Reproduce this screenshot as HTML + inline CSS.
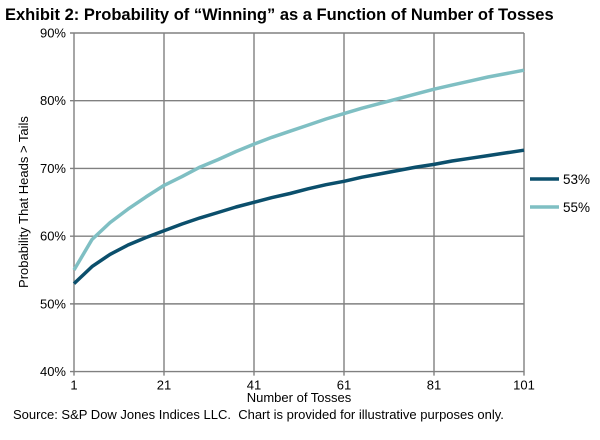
<!DOCTYPE html>
<html><head><meta charset="utf-8"><style>
body{margin:0;background:#fff;font-family:"Liberation Sans",Arial,sans-serif}
svg text{font-family:"Liberation Sans",Arial,sans-serif}
</style></head><body>
<svg id="chart" width="600" height="435" xmlns="http://www.w3.org/2000/svg">
<text x="5" y="20" font-size="16.5" font-weight="bold" fill="#000">Exhibit 2: Probability of “Winning” as a Function of Number of Tosses</text>
<g id="grid"></g><g id="series"></g><g id="labels"></g>
<text transform="translate(28,202) rotate(-90)" text-anchor="middle" font-size="13">Probability That Heads &gt; Tails</text>
<text x="299" y="402" text-anchor="middle" font-size="13">Number of Tosses</text>
<text x="13" y="419" font-size="13" xml:space="preserve">Source: S&amp;P Dow Jones Indices LLC.  Chart is provided for illustrative purposes only.</text>
<g>
<line x1="530" y1="179" x2="559" y2="179" stroke="#0b4f6c" stroke-width="3.5"/>
<text x="563" y="184" font-size="13.5">53%</text>
<line x1="530" y1="207" x2="559" y2="207" stroke="#7fbfc3" stroke-width="3.5"/>
<text x="563" y="212" font-size="13.5">55%</text>
</g>
</svg>
<script>
const tosses=[1,5,9,13,17,21,25,29,33,37,41,45,49,53,57,61,65,69,73,77,81,85,89,93,97,101];
const s53=[53,55.5,57.3,58.7,59.8,60.8,61.8,62.7,63.5,64.3,65.0,65.7,66.3,67.0,67.6,68.1,68.7,69.2,69.7,70.2,70.6,71.1,71.5,71.9,72.3,72.7];
const s55=[55,59.5,62,64,65.8,67.5,68.8,70.2,71.3,72.5,73.6,74.6,75.5,76.4,77.3,78.1,78.9,79.6,80.3,81.0,81.7,82.3,82.9,83.5,84.0,84.5];
const yTicks=[40,50,60,70,80,90];
const xTicks=[1,21,41,61,81,101];
const X0=74,X1=524,Y0=371.6,Y1=33;
const xs=v=>X0+(v-1)/(100)*(X1-X0);
const ys=v=>Y0-(v-40)/50*(Y0-Y1);
const NS="http://www.w3.org/2000/svg";
const grid=document.getElementById('grid'),labels=document.getElementById('labels'),ser=document.getElementById('series');
function mk(tag,attrs,parent){const e=document.createElementNS(NS,tag);for(const k in attrs)e.setAttribute(k,attrs[k]);parent.appendChild(e);return e;}
yTicks.forEach(t=>{
 const l=mk('line',{x1:X0-4,x2:X1,y1:ys(t),y2:ys(t),stroke:'#808080','stroke-width':1.4},grid);
 
 
 const tx=mk('text',{x:X0-8,y:ys(t)+4.5,'text-anchor':'end','font-size':13},labels);
 tx.textContent=t+'%';
 
 
});
xTicks.forEach(t=>{
 const l=mk('line',{x1:xs(t),x2:xs(t),y1:Y1,y2:Y0+4,stroke:'#808080','stroke-width':1.4},grid);
 
 
 const tx=mk('text',{x:xs(t),y:Y0+18,'text-anchor':'middle','font-size':13},labels);
 tx.textContent=t;
 
 
});
function line(vals,color,name){
 const d=vals.map((v,i)=>(i?'L':'M')+xs(tosses[i]).toFixed(1)+','+ys(v).toFixed(1)).join('');
 const p=mk('path',{d:d,fill:'none',stroke:color,'stroke-width':3.5,'stroke-linejoin':'round'},ser);
 
 
}
line(s55,'#7fbfc3','series-55-line');
line(s53,'#0b4f6c','series-53-line');
</script>
</body></html>
